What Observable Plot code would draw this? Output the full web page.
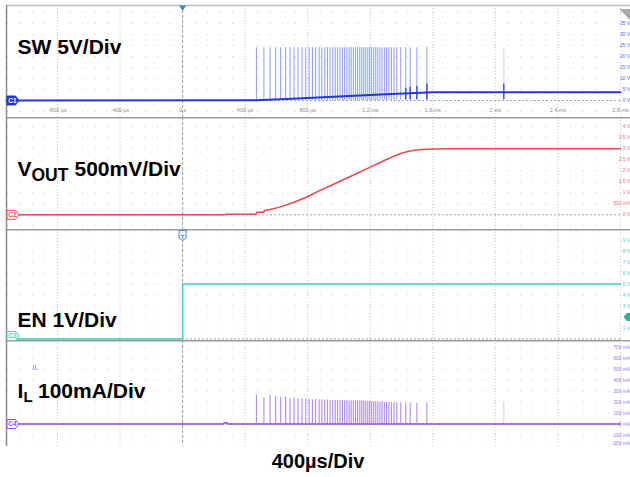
<!DOCTYPE html>
<html>
<head>
<meta charset="utf-8">
<script src="https://cdn.jsdelivr.net/npm/d3@7"></script>
<script src="https://cdn.jsdelivr.net/npm/@observablehq/plot@0.6"></script>
<style>
  body { margin: 0; background: #fff; font-family: "Liberation Sans", Arial, Helvetica, sans-serif; }
  #scope { position: relative; width: 630px; height: 477px; overflow: hidden; }
  #panels svg { display: block; }
  #timebase {
    position: absolute; left: 0; top: 451px; width: 636px; text-align: center;
    font: bold 20px/20px "Liberation Sans", Arial, Helvetica, sans-serif; color: #000;
  }
</style>
</head>
<body>
<div id="scope">
  <div id="panels"></div>
  <div id="timebase">400µs/Div</div>
</div>
<script>
// ---- time base (µs) ----
const tStart = -1126;
const tEnd = 2800;
const timeTicks = [-800, -400, 0, 400, 800, 1200, 1600, 2000, 2400, 2800];
const timeTickLabels = ["-800 µs", "-400 µs", "0 s", "400 µs", "800 µs", "1.2 ms", "1.6 ms", "2 ms", "2.4 ms", "2.8 ms"];

// ---- channel 1: switch node (V) ----
const swTicks = [0, 5, 10, 15, 20, 25, 30, 35];
const swRows = [-5, 0, 5, 10, 15, 20, 25, 30, 35, 40];
const swTraceTimes = [-1126, 472, 700, 1000, 1300, 1562, 1600, 2800];
const swTraceVolts = [0, 0.1, 0.8, 1.8, 2.8, 3.6, 3.7, 3.7];
const swSpikeTimes = [472, 520, 559, 595, 627, 659, 687, 713, 738, 764,
  787, 809, 830, 851, 873, 890, 909, 926, 943, 960,
  976, 991, 1007, 1022, 1036, 1051, 1065, 1078, 1092, 1106,
  1119, 1133, 1146, 1158, 1171, 1184, 1196, 1209, 1222, 1235,
  1248, 1262, 1275, 1290, 1304, 1319, 1335, 1352, 1370, 1395,
  1427, 1455, 1498, 1562, 2054];
const swSpikeTop = 24;
const swRingTimes = [1427, 1455, 1498, 1562, 2054];
const swRingVolts = [5.5, 6, 6.5, 7.5, 7.5];

// ---- channel 2: output voltage (V) ----
const voutTicks = [0, 0.5, 1, 1.5, 2, 2.5, 3, 3.5, 4];
const voutRows = [-0.5, 0, 0.5, 1, 1.5, 2, 2.5, 3, 3.5, 4];
const voutTimes = [-1126, 262, 290, 470, 476, 520, 524, 560, 627, 712,
  798, 883, 1000, 1100, 1200, 1300, 1360, 1400, 1440, 1480,
  1530, 1600, 1700, 2800];
const voutVolts = [0, 0, 0.03, 0.03, 0.12, 0.12, 0.2, 0.24, 0.36, 0.57,
  0.82, 1.12, 1.5, 1.83, 2.17, 2.5, 2.69, 2.8, 2.88, 2.93,
  2.97, 2.99, 3.0, 3.0];

// ---- channel 3: enable (V) ----
const enTicks = [1, 3, 4, 5, 6, 7, 8, 9];
const enRows = [0, 1, 2, 3, 4, 5, 6, 7, 8, 9];
const enTimes = [-1126, 0, 0, 2800];
const enVolts = [0, 0, 5, 5];
const enTriggerLevel = 2;

// ---- channel 4: inductor current (mA) ----
const ilTicks = [-100, 0, 100, 200, 300, 400, 500, 600, 700];
const ilBottomTick = -200;
const ilRows = [-200, -100, 0, 100, 200, 300, 400, 500, 600, 700];
const ilTraceTimes = [-1126, 262, 268, 284, 290, 2800];
const ilTraceMilliamps = [0, 0, 12, 12, 0, 0];
const ilSpikePeaks = [262, 236, 258, 252, 240, 246, 232, 238, 228, 230,
  224, 226, 220, 222, 218, 220, 215, 218, 214, 216,
  213, 215, 212, 214, 211, 213, 210, 212, 212, 210,
  211, 209, 212, 210, 208, 206, 204, 205, 203, 202,
  200, 201, 199, 198, 197, 196, 195, 196, 193, 192,
  190, 192, 188, 190, 200];

// ---- tables built from the arrays ----
const zip = (xs, ys, k) => xs.map((t, i) => ({t, [k]: ys[i]}));
const swTrace = zip(swTraceTimes, swTraceVolts, "v");
const swRing = zip(swRingTimes, swRingVolts, "v");
const vout = zip(voutTimes, voutVolts, "v");
const en = zip(enTimes, enVolts, "v");
const ilTrace = zip(ilTraceTimes, ilTraceMilliamps, "v");
const ilSpikes = zip(swSpikeTimes, ilSpikePeaks, "peak");
const minorX = d3.range(-1120, tEnd + 1, 80);

const font = '"Liberation Sans", Arial, Helvetica, sans-serif';
const colors = {
  sw: "#2236dc", swSpike: "#7282f2", swLabel: "#5565ee",
  vout: "#e8474c", voutLabel: "#f0686c",
  en: "#3ad3b3", enLabel: "#52cdb0", enMarker: "#22b592",
  il: "#8f4fe3", ilLight: "#c7acf3", ilSpike: "#a77cee", ilLabel: "#a274ea",
  trig: "#3b82e6"
};

// ---- marker shapes (drawn in pixels around the anchor point) ----
const channelTag = {draw(c) { c.moveTo(-6, -4.5); c.lineTo(2.5, -4.5); c.lineTo(6, 0); c.lineTo(2.5, 4.5); c.lineTo(-6, 4.5); c.closePath(); }};
const trigArrow = {draw(c) { c.moveTo(-3.5, 0); c.lineTo(3.5, 0); c.lineTo(0, 5.5); c.closePath(); }};
const trigBox = {draw(c) { c.moveTo(-3.5, 1); c.lineTo(3.5, 1); c.lineTo(3.5, 8.5); c.lineTo(0, 11); c.lineTo(-3.5, 8.5); c.closePath(); }};
const levelArrow = {draw(c) { c.moveTo(3, 0); c.lineTo(6.5, -4); c.lineTo(11, -4); c.lineTo(11, 4); c.lineTo(6.5, 4); c.closePath(); }};
const cornerIcon = {draw(c) { c.moveTo(-11, 3.5); c.lineTo(0, 3.5); c.lineTo(0, 15); c.closePath(); }};

// channel tag at the left edge; lift nudges it up when the ground level sits on the panel edge
function tagMarks(name, y, color, filled, lift = 0) {
  return [
    Plot.dot([y], {x: () => tStart, y: d => d, symbol: channelTag, dx: 6.5, dy: -lift, r: 5,
      fill: filled ? color : "#fff", stroke: color, strokeWidth: 1}),
    Plot.text([name], {x: () => tStart, y: () => y, dx: 6, dy: -lift, fontSize: 6.5, fontWeight: "bold",
      fill: filled ? "#fff" : color, fontFamily: font})
  ];
}

// per-channel scale labels, right-aligned against the screen edge
function scaleLabels(ticks, format, color, lift = 0) {
  return Plot.text(ticks, {x: () => tEnd, y: d => d, dx: 9.5, dy: -lift, textAnchor: "end", text: format,
    fontSize: 4.8, fill: color});
}

function scopePanel(o) {
  return Plot.plot({
    width: 630, height: o.height,
    marginLeft: 6, marginRight: 0, marginTop: o.marginTop, marginBottom: 0,
    x: {domain: [tStart, tEnd], range: [6, 620], axis: null},
    y: {domain: o.domain, axis: null},
    style: {fontFamily: font, background: "#fff", overflow: "hidden"},
    marks: [
      Plot.dot(d3.cross(minorX, o.rows), {x: d => d[0], y: d => d[1], r: 0.6, fill: "#c4c4c4"}),
      Plot.ruleX(timeTicks.filter(t => t !== 0), {stroke: "#cccccc", strokeDasharray: "1,2"}),
      Plot.ruleX([0], {stroke: "#9a9a9a", strokeDasharray: "3,2"}),
      Plot.ruleY([0], {x1: tStart, x2: tEnd, stroke: "#a6a6a6", strokeDasharray: "2,2"}),
      Plot.ruleY([o.domain[1]], {stroke: o.topStroke, strokeWidth: o.topWidth}),
      Plot.ruleX([tStart], {stroke: "#8a8a8a", strokeWidth: 1.5}),
      scaleLabels(o.ticks, o.format, o.labelColor),
      ...o.marks
    ]
  });
}

const panels = document.getElementById("panels");

// SW panel
panels.append(scopePanel({
  height: 117, marginTop: 5, domain: [-7.727, 43.18], rows: swRows, ticks: swTicks,
  format: d => `${d} V`, labelColor: colors.swLabel, topStroke: "#bdbdbd", topWidth: 1.5,
  marks: [
    Plot.text(timeTicks, {x: d => d, text: (d, i) => timeTickLabels[i], frameAnchor: "bottom", dy: -6,
      fontSize: 5.5, fill: "#8c8c8c"}),
    Plot.ruleX(swSpikeTimes, {x: d => d, y1: 0, y2: swSpikeTop, stroke: colors.swSpike, strokeWidth: 1,
      strokeOpacity: d => d > 2000 ? 0.35 : 0.8}),
    Plot.line(swTrace, {x: "t", y: "v", stroke: colors.sw, strokeWidth: 2}),
    Plot.ruleX(swRing, {x: "t", y1: 0.3, y2: "v", stroke: colors.sw, strokeWidth: 1.2}),
    Plot.text(["SW 5V/Div"], {frameAnchor: "top-left", dx: 11, dy: 34, lineAnchor: "top", textAnchor: "start",
      fontSize: 21, fontWeight: "bold", fill: "#000", fontFamily: font}),
    Plot.dot([0], {x: d => d, frameAnchor: "top", symbol: trigArrow, r: 4, fill: colors.trig}),
    Plot.dot([0], {frameAnchor: "top-right", symbol: cornerIcon, r: 4, fill: "#a9a9a9"}),
    ...tagMarks("C1", 0, colors.sw, true)
  ]
}));

// VOUT panel
panels.append(scopePanel({
  height: 112, marginTop: 0, domain: [-0.668, 4.423], rows: voutRows, ticks: voutTicks,
  format: d => d === 0.5 ? "500 mV" : `${d} V`, labelColor: colors.voutLabel, topStroke: "#9c9c9c", topWidth: 2,
  marks: [
    Plot.line(vout, {x: "t", y: "v", stroke: colors.vout, strokeWidth: 1.5}),
    Plot.text(["V"], {frameAnchor: "top-left", dx: 11, dy: 44, lineAnchor: "top", textAnchor: "start",
      fontSize: 21, fontWeight: "bold", fill: "#000", fontFamily: font}),
    Plot.text(["OUT"], {frameAnchor: "top-left", dx: 25, dy: 51.5, lineAnchor: "top", textAnchor: "start",
      fontSize: 17.5, fontWeight: "bold", fill: "#000", fontFamily: font}),
    Plot.text(["500mV/Div"], {frameAnchor: "top-left", dx: 68, dy: 44, lineAnchor: "top", textAnchor: "start",
      fontSize: 21, fontWeight: "bold", fill: "#000", fontFamily: font}),
    ...tagMarks("C2", 0, colors.vout, false)
  ]
}));

// EN panel
panels.append(scopePanel({
  height: 111, marginTop: 0, domain: [-0.136, 9.955], rows: enRows, ticks: enTicks,
  format: d => `${d} V`, labelColor: colors.enLabel, topStroke: "#9c9c9c", topWidth: 2,
  marks: [
    Plot.line(en, {x: "t", y: "v", stroke: colors.en, strokeWidth: 1.5}),
    Plot.dot([enTriggerLevel], {x: () => tEnd, y: d => d, symbol: levelArrow, r: 4, fill: colors.enMarker}),
    Plot.dot([0], {x: d => d, frameAnchor: "top", symbol: trigBox, r: 4, fill: "#fff", stroke: colors.trig, strokeWidth: 1}),
    Plot.text(["T"], {x: () => 0, frameAnchor: "top", dy: 5, fontSize: 6, fontWeight: "bold", fill: colors.trig}),
    Plot.text(["EN 1V/Div"], {frameAnchor: "top-left", dx: 11, dy: 83, lineAnchor: "top", textAnchor: "start",
      fontSize: 21, fontWeight: "bold", fill: "#000", fontFamily: font}),
    ...tagMarks("C3", 0, colors.en, false, 3)
  ]
}));

// IL panel
panels.append(scopePanel({
  height: 106, marginTop: 0, domain: [-204.5, 759.1], rows: ilRows, ticks: ilTicks,
  format: d => `${d} mA`, labelColor: colors.ilLabel, topStroke: "#9c9c9c", topWidth: 2,
  marks: [
    scaleLabels([ilBottomTick], d => `${d} mA`, colors.ilLabel, 2.5),
    Plot.ruleX(ilSpikes, {x: "t", y1: 0, y2: "peak", stroke: colors.ilSpike, strokeWidth: 1.1,
      strokeOpacity: d => d.t > 2000 ? 0.4 : 0.9}),
    Plot.line(ilTrace, {x: "t", y: "v", stroke: colors.ilLight, strokeWidth: 1.5}),
    Plot.line(ilTrace, {x: "t", y: "v", stroke: colors.il, strokeWidth: 1.5, strokeDasharray: "2.5,1.5"}),
    Plot.text(["IL"], {frameAnchor: "top-left", dx: 26, dy: 25, lineAnchor: "top", textAnchor: "start",
      fontSize: 7, fill: colors.ilLabel}),
    Plot.text(["I"], {frameAnchor: "top-left", dx: 11, dy: 43, lineAnchor: "top", textAnchor: "start",
      fontSize: 21, fontWeight: "bold", fill: "#000", fontFamily: font}),
    Plot.text(["L"], {frameAnchor: "top-left", dx: 17, dy: 51.3, lineAnchor: "top", textAnchor: "start",
      fontSize: 15, fontWeight: "bold", fill: "#000", fontFamily: font}),
    Plot.text(["100mA/Div"], {frameAnchor: "top-left", dx: 31.5, dy: 43, lineAnchor: "top", textAnchor: "start",
      fontSize: 21, fontWeight: "bold", fill: "#000", fontFamily: font}),
    ...tagMarks("C4", 0, colors.il, false)
  ]
}));
</script>
</body>
</html>
